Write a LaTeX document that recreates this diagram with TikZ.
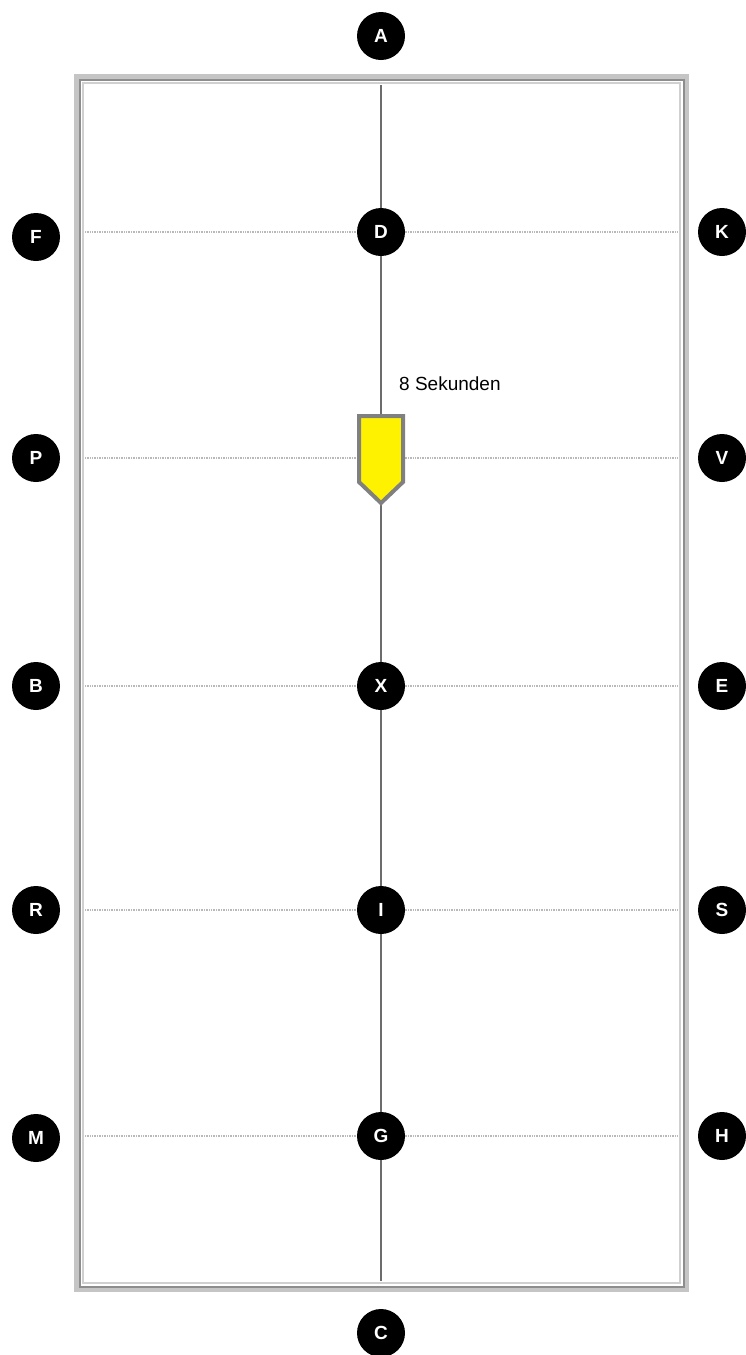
\documentclass[tikz,border=0pt]{standalone}
\usepackage{fontspec}
\setsansfont{Liberation Sans}
\usetikzlibrary{positioning,backgrounds}

\definecolor{framegray}{RGB}{150,150,150}
\definecolor{edgegray}{RGB}{128,128,128}

\begin{document}
\begin{tikzpicture}[
  x=1pt,y=-1pt,
  font=\sffamily,
  letter/.style={circle,fill=black,text=white,inner sep=0pt,minimum size=48pt,
                 font=\sffamily\bfseries\fontsize{19}{19}\selectfont},
  gridline/.style={gray!55,line width=1.6pt,dash pattern=on 1pt off 0.7pt},
  axis/.style={gray!85!black,line width=1.4pt},
  marker/.style={fill=yellow,draw=edgegray,line width=4pt,line join=miter}]

\useasboundingbox (0,0) rectangle (745,1355);

% --- corners of the arena (inner edge) ---
\coordinate (nw) at (85,85);
\coordinate (se) at (678,1281);

% --- letters, top to bottom ---
\node[letter] (A) at (381,36)   {A};
\node[letter] (F) at (36,237)   {F};
\node[letter] (D) at (381,232)  {D};
\node[letter] (K) at (722,232)  {K};
\node[letter] (P) at (36,458)   {P};
\node[letter] (V) at (722,458)  {V};
\node[letter] (B) at (36,686)   {B};
\node[letter] (X) at (381,686)  {X};
\node[letter] (E) at (722,686)  {E};
\node[letter] (R) at (36,910)   {R};
\node[letter] (I) at (381,910)  {I};
\node[letter] (S) at (722,910)  {S};
\node[letter] (M) at (36,1138)  {M};
\node[letter] (G) at (381,1136) {G};
\node[letter] (H) at (722,1136) {H};
\node[letter] (C) at (381,1333) {C};

% --- fence and lines behind the letters ---
\begin{pgfonlayer}{background}
  \draw[framegray!55,line width=6pt] (77,77) rectangle (686,1289);
  \draw[edgegray!90,line width=2pt] (79.5,79.5) rectangle (683.5,1286.5);
  \draw[framegray!45,line width=2pt] (83,83) rectangle (680,1283);
  \draw[gridline] (D -| nw) -- (D -| se);
  \draw[gridline] (V -| nw) -- (V -| se);
  \draw[gridline] (X -| nw) -- (X -| se);
  \draw[gridline] (I -| nw) -- (I -| se);
  \draw[gridline] (G -| nw) -- (G -| se);
  \draw[axis] (D |- nw) -- (D |- se);   % centre line A--C
\end{pgfonlayer}

% --- rider marker with time ---
\draw[marker] (359,416) -- (403,416) -- (403,482) -- (381,503) -- (359,482) -- cycle;
\node[anchor=west,inner sep=0pt,font=\sffamily\fontsize{19}{19}\selectfont]
  (time) at (399,384) {8 Sekunden};

\end{tikzpicture}
\end{document}
